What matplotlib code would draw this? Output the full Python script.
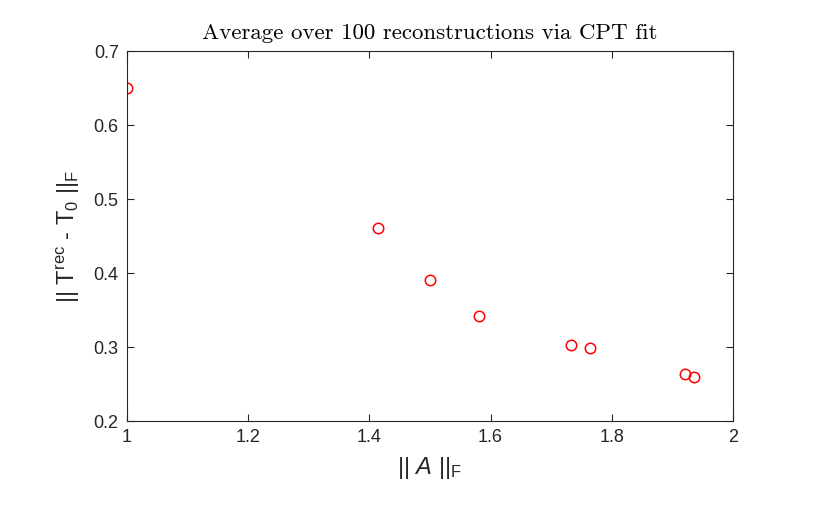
import matplotlib
matplotlib.use("Agg")
import matplotlib.pyplot as plt

# data
norm_A = [1.0, 1.4142, 1.5, 1.581, 1.732, 1.764, 1.921, 1.936]
err = [0.650, 0.461, 0.391, 0.342, 0.303, 0.298, 0.264, 0.260]

plt.rcParams["font.family"] = ["Liberation Sans", "DejaVu Sans"]
plt.rcParams["mathtext.fontset"] = "custom"
plt.rcParams["mathtext.rm"] = "Liberation Sans"
plt.rcParams["mathtext.it"] = "Liberation Sans:italic"

fig = plt.figure(figsize=(8.34, 5.15), dpi=100)
ax = fig.add_axes([0.1523, 0.1825, 0.7266, 0.7184])

ax.plot(norm_A, err, "o", mfc="none", mec="red", ms=7.5, mew=1.1)

ax.set_xlim(1, 2)
ax.set_ylim(0.2, 0.7)
ax.set_xticks([1, 1.2, 1.4, 1.6, 1.8, 2])
ax.set_xticklabels(["1", "1.2", "1.4", "1.6", "1.8", "2"])
ax.set_yticks([0.2, 0.3, 0.4, 0.5, 0.6, 0.7])
ax.tick_params(direction="in", top=True, right=True, labelsize=13,
               colors="#262626", length=5, width=0.8, pad=6)
for s in ax.spines.values():
    s.set_color("#262626")
    s.set_linewidth(0.8)

ax.set_xlabel(r"|| $\mathit{A}$ ||$_\mathrm{F}$", fontsize=17, color="#262626",
              labelpad=6)
ax.set_ylabel(r"|| T$^\mathrm{rec}$ - T$_0$ ||$_\mathrm{F}$", fontsize=17,
              color="#262626", labelpad=8)
ax.set_title("Average over 100 reconstructions via CPT fit",
             fontfamily="cmr10", fontsize=16.5, pad=9)

fig.savefig("out.png", dpi=100)
